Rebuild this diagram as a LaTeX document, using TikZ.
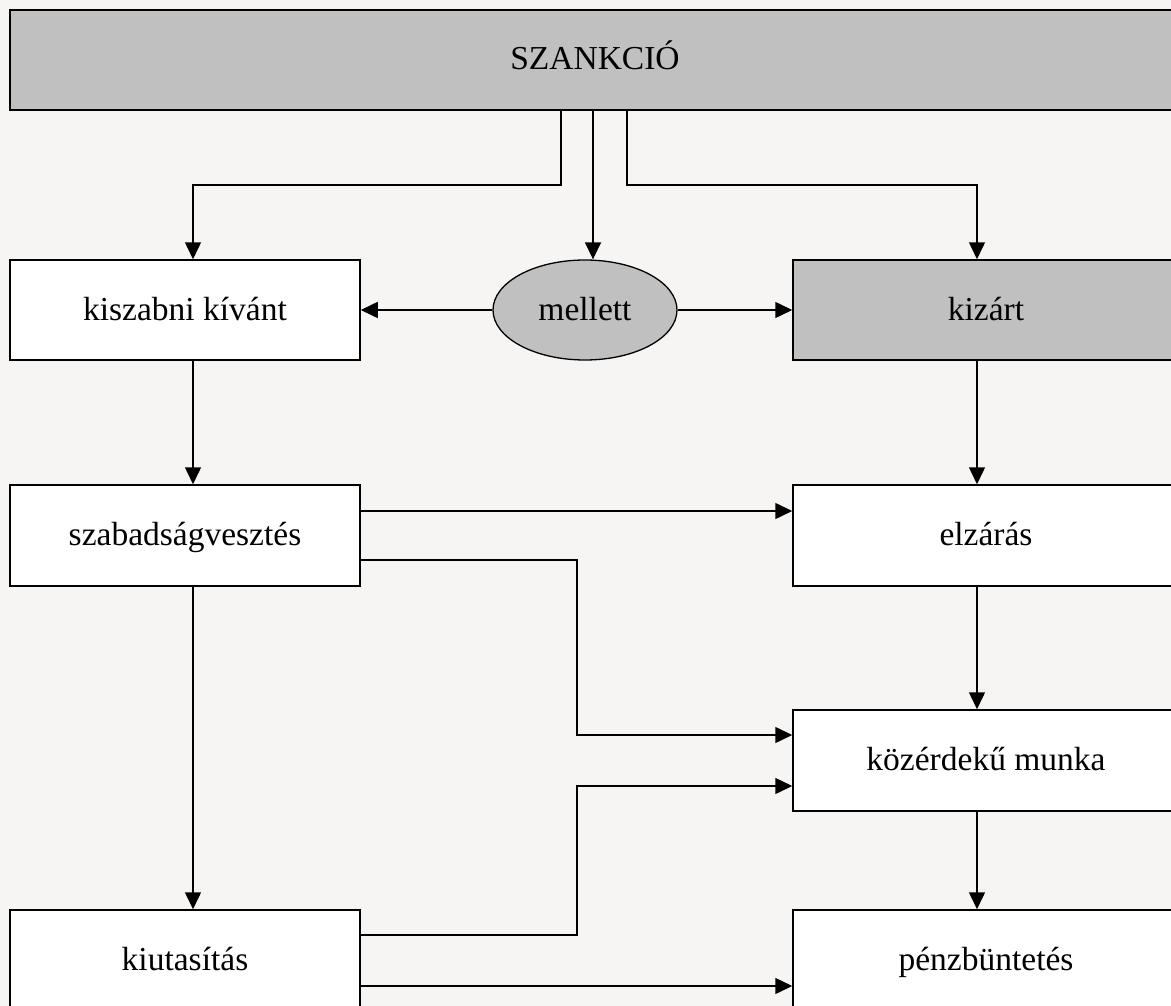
\documentclass[tikz,border=0pt]{standalone}
\usepackage{fontspec}
\setmainfont{Liberation Serif}
\usetikzlibrary{arrows.meta,shapes.geometric}
\definecolor{bgc}{HTML}{F6F5F3}
\definecolor{boxgray}{HTML}{C0C0C0}
\tikzset{
  box/.style={draw=black, line width=1.5pt, fill=white, rectangle, minimum width=350pt, minimum height=100pt, inner sep=0pt, text height=26pt, text depth=6pt, font=\fontsize{33.5}{40}\selectfont},
  graybox/.style={box, fill=boxgray},
  oval/.style={draw=black, line width=1.3pt, fill=boxgray, ellipse, minimum width=184pt, minimum height=100pt, inner sep=0pt, text height=26pt, text depth=6pt, font=\fontsize{33.5}{40}\selectfont},
  arr/.style={line width=1.5pt, -{Triangle[length=17pt,width=16pt]}},
  ln/.style={line width=1.5pt}
}
\begin{document}
\begin{tikzpicture}[x=1pt,y=-1pt]
\useasboundingbox (0,0) rectangle (1171,1006);
\clip (0,0) rectangle (1171,1006);
\fill[bgc] (0,0) rectangle (1171,1006);
% nodes
\node[graybox, minimum width=1170pt] (top) at (595,60) {SZANKCIÓ};
\node[box] (kisz) at (185,310) {kiszabni kívánt};
\node[oval] (mel) at (585,310) {mellett};
\node[graybox, minimum width=386pt] (kiz) at (986,310) {kizárt};
\node[box, minimum height=101pt] (szab) at (185,535.5) {szabadságvesztés};
\node[box, minimum width=386pt, minimum height=101pt] (elz) at (986,535.5) {elzárás};
\node[box, minimum width=386pt, minimum height=101pt] (koz) at (986,760.5) {közérdekű munka};
\node[box] (kiut) at (185,960) {kiutasítás};
\node[box, minimum width=386pt] (penz) at (986,960) {pénzbüntetés};
% helper coordinates
\coordinate (vA) at (561,185);
\coordinate (vB) at (593,0);
\coordinate (vC) at (627,185);
\coordinate (vL) at (193,0);
\coordinate (vR) at (977,0);
\coordinate (vM) at (577,0);
\coordinate (h1) at (0,511);
\coordinate (h2) at (0,560);
\coordinate (h3) at (0,735);
\coordinate (h4) at (0,935);
\coordinate (h5) at (0,786);
\coordinate (h6) at (0,986);
% connectors
\draw[arr] (top.south -| vA) -- (vA) -| (kisz.north -| vL);
\draw[arr] (top.south -| vB) -- (mel.north -| vB);
\draw[arr] (top.south -| vC) -- (vC) -| (kiz.north -| vR);
\draw[arr] (mel.west) -- (kisz.east);
\draw[arr] (mel.east) -- (kiz.west);
\draw[arr] (kisz.south -| vL) -- (szab.north -| vL);
\draw[arr] (kiz.south -| vR) -- (elz.north -| vR);
\draw[arr] (szab.east |- h1) -- (elz.west |- h1);
\draw[arr] (szab.east |- h2) -| (vM |- h3) -- (koz.west |- h3);
\draw[arr] (elz.south -| vR) -- (koz.north -| vR);
\draw[arr] (szab.south -| vL) -- (kiut.north -| vL);
\draw[arr] (kiut.east |- h4) -| (vM |- h5) -- (koz.west |- h5);
\draw[arr] (koz.south -| vR) -- (penz.north -| vR);
\draw[arr] (kiut.east |- h6) -- (penz.west |- h6);
\end{tikzpicture}
\end{document}
